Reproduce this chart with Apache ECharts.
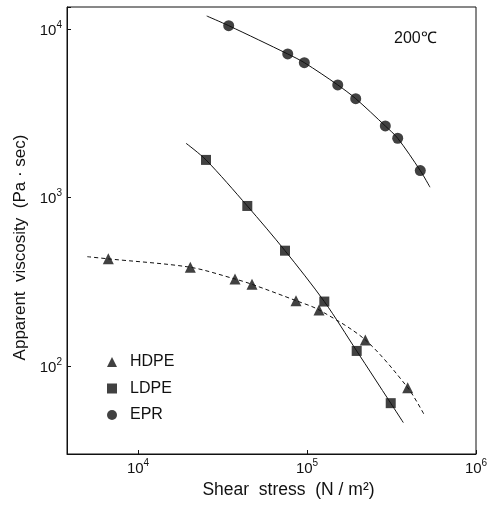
<!DOCTYPE html>
<html>
<head>
<meta charset="utf-8">
<script src="https://cdn.jsdelivr.net/npm/echarts@6/dist/echarts.min.js"></script>
<style>
  html, body { margin: 0; padding: 0; background: #fff; }
  #chart { width: 492px; height: 510px; }
</style>
</head>
<body>
<div id="chart"></div>
<script>
// measured points (shear stress N/m2, apparent viscosity Pa.sec)
const hdpeStress = [6670, 20390, 37500, 47270, 86080, 117800, 221300, 394300]
const hdpeVisc = [432, 385, 328, 305, 244, 215, 142.7, 74.3]
const ldpeStress = [25260, 44330, 74100, 126600, 196800, 312900]
const ldpeVisc = [1670, 890, 483, 241, 122.7, 60.1]
const eprStress = [34400, 76900, 96400, 152000, 194200, 290600, 344100, 468100]
const eprVisc = [10460, 7105, 6310, 4653, 3858, 2656, 2245, 1443]

// where the drawn curves begin and end
const hdpeCurveEnds = [[5010, 445], [494400, 51.2]]
const ldpeCurveEnds = [[19230, 2097], [371400, 46.1]]
const eprCurveEnds = [[25500, 11940], [534200, 1150]]

const xTicks = [1e4, 1e5, 1e6]
const yTicks = [1e2, 1e3, 1e4]

const pairs = (xs, ys) => xs.map((x, i) => [x, ys[i]])
const curve = (ends, xs, ys) => [ends[0], ...pairs(xs, ys), ends[1]]

function powLabel(ticks) {
  return function (v) {
    for (const t of ticks) {
      if (Math.abs(v - t) / t < 1e-6) return '{b|10}{s|' + Math.round(Math.log10(t)) + '}'
    }
    return ''
  }
}

const font = "'Liberation Sans', Arial, sans-serif"
const ink = '#111'
const powRich = {
  b: { fontFamily: font, fontSize: 15, color: ink, lineHeight: 18, verticalAlign: 'bottom' },
  s: { fontFamily: font, fontSize: 10, color: ink, verticalAlign: 'top' }
}

const curveSeries = (name, ends, xs, ys, dashed) => ({
  name: name + '-fit',
  type: 'line',
  data: curve(ends, xs, ys),
  smooth: 0.3,
  showSymbol: false,
  symbol: 'none',
  silent: true,
  lineStyle: { color: ink, width: 1, type: dashed ? [4, 3] : 'solid' },
  z: 2
})

const pointSeries = (name, xs, ys, symbol, size) => ({
  name: name,
  type: 'scatter',
  data: pairs(xs, ys),
  symbol: symbol,
  symbolSize: size,
  itemStyle: { color: ink },
  z: 3
})

const option = {
  animation: false,
  backgroundColor: '#fff',
  textStyle: { fontFamily: font, color: ink },
  grid: {
    left: 67, top: 7, right: 16, bottom: 56,
    show: true, borderColor: ink, borderWidth: 1
  },
  title: {
    text: '200℃',
    left: 389, top: 26,
    textStyle: { fontFamily: font, fontSize: 16, fontWeight: 'normal', color: ink }
  },
  legend: {
    orient: 'vertical',
    left: 102, top: 349,
    itemWidth: 10, itemHeight: 10, itemGap: 10.5,
    textStyle: { fontFamily: font, fontSize: 16, color: ink, padding: [0, 0, 0, 8], lineHeight: 15 },
    data: [
      { name: 'HDPE', icon: 'triangle' },
      { name: 'LDPE', icon: 'rect' },
      { name: 'EPR', icon: 'circle' }
    ]
  },
  xAxis: {
    type: 'log', logBase: 10,
    min: 3800, max: 1e6,
    name: 'Shear  stress  (N / m²)',
    nameLocation: 'middle', nameGap: 16,
    nameTextStyle: { fontFamily: font, fontSize: 17.5, color: ink, padding: [0, 0, 0, 34] },
    axisLine: { lineStyle: { color: ink, width: 1 } },
    axisTick: { inside: true, length: 4, lineStyle: { color: ink } },
    minorTick: { show: false },
    splitLine: { show: false },
    axisLabel: { formatter: powLabel(xTicks), rich: powRich, margin: 4 }
  },
  yAxis: {
    type: 'log', logBase: 10,
    min: 30, max: 13500,
    name: 'Apparent  viscosity  (Pa · sec)',
    nameLocation: 'middle', nameGap: 28,
    nameTextStyle: { fontFamily: font, fontSize: 17, color: ink, padding: [8, 34, 0, 0] },
    axisLine: { lineStyle: { color: ink, width: 1 } },
    axisTick: { inside: true, length: 4, lineStyle: { color: ink } },
    minorTick: { show: false },
    splitLine: { show: false },
    axisLabel: { formatter: powLabel(yTicks), rich: powRich, margin: 5 }
  },
  series: [
    curveSeries('HDPE', hdpeCurveEnds, hdpeStress, hdpeVisc, true),
    curveSeries('LDPE', ldpeCurveEnds, ldpeStress, ldpeVisc, false),
    curveSeries('EPR', eprCurveEnds, eprStress, eprVisc, false),
    pointSeries('HDPE', hdpeStress, hdpeVisc, 'triangle', 11),
    pointSeries('LDPE', ldpeStress, ldpeVisc, 'rect', 10),
    pointSeries('EPR', eprStress, eprVisc, 'circle', 11)
  ]
}

const chart = echarts.init(document.getElementById('chart'), null, { renderer: 'canvas' })
chart.setOption(option, true)
</script>
</body>
</html>
